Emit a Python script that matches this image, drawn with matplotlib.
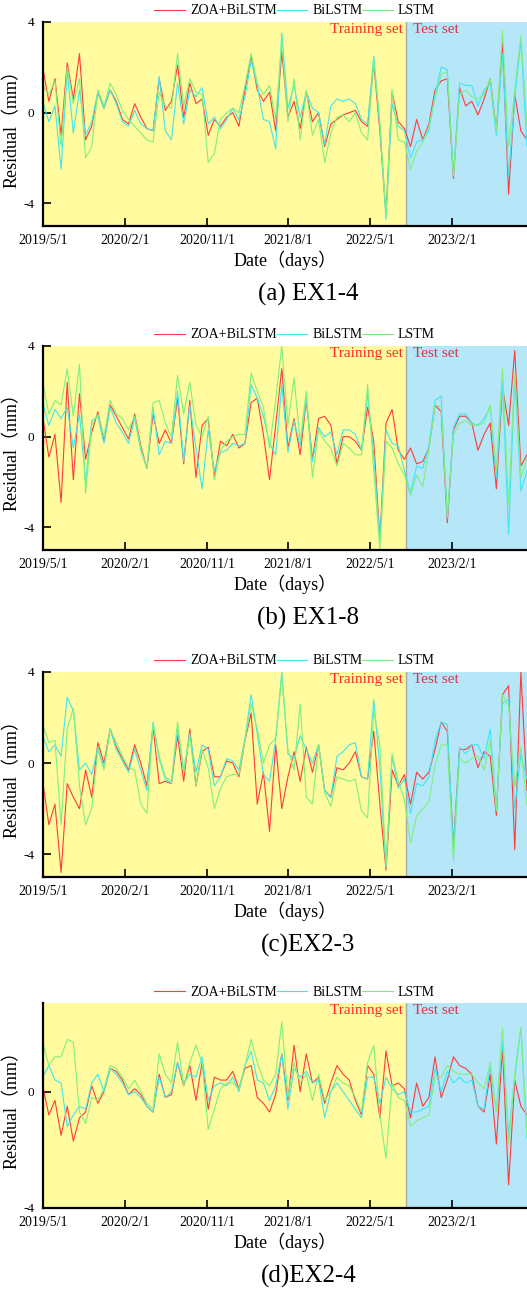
# residual curves for the four stations, ZOA+BiLSTM vs BiLSTM vs LSTM
import numpy as np
import pandas as pd
import matplotlib
matplotlib.use('Agg')
import matplotlib.pyplot as plt

plt.rcParams['font.family'] = ['Liberation Serif', 'Noto Sans CJK SC']

# time axis: one sample every ~20 days
dates = pd.date_range('2019-05-01', '2023-10-09', periods=80)
split_date = pd.Timestamp('2022-08-29')
tick_dates = ['2019-05-01', '2020-02-01', '2020-11-01', '2021-08-01', '2022-05-01', '2023-02-01']
tick_labels = ['2019/5/1', '2020/2/1', '2020/11/1', '2021/8/1', '2022/5/1', '2023/2/1']

series_names = ['ZOA+BiLSTM', 'BiLSTM', 'LSTM']
captions = ['(a) EX1-4', '(b) EX1-8', '(c)EX2-3', '(d)EX2-4']

# (a) EX1-4
a_zoa = [2.0, 0.5, 1.5, -1.0, 2.2, 0.6, 2.6, -1.2, -0.6, 0.9,
         0.2, 1.0, 0.5, -0.3, -0.5, 0.4, -0.2, -0.7, -0.8, 1.5,
         0.1, 0.5, 2.1, -0.2, 1.3, 0.4, 0.6, -1.0, -0.3, -0.6,
         -0.2, 0.0, -0.6, 1.0, 2.5, 1.0, 0.5, 0.9, -0.8, 2.7,
         -0.2, 0.5, -0.7, 0.9, -0.4, 0.0, -1.5, -0.5, -0.3, -0.1,
         0.0, 0.1, -0.4, -0.6, 2.2, -0.8, -4.5, 0.9, -0.4, -0.7,
         -1.5, -0.3, -1.2, -0.5, 1.0, 1.4, 1.5, -2.9, 1.1, 0.3,
         0.5, -0.1, 0.6, 1.5, -0.8, 3.1, -3.6, 0.8, -0.8, -1.2]
a_bilstm = [0.5, -0.4, 0.3, -2.5, 1.8, -0.9, 1.0, -1.0, -0.4, 0.9,
            0.2, 1.0, 0.4, -0.4, -0.6, 0.1, -0.5, -0.7, -0.8, 1.6,
            -0.8, -1.2, 1.3, -0.5, 1.0, 0.7, 1.1, -0.5, -0.2, -0.7,
            -0.3, 0.2, -0.3, 0.7, 2.3, 1.2, -0.3, -0.4, -1.6, 3.5,
            0.2, 1.2, -0.2, 0.9, 0.2, 0.0, -1.4, 0.3, 0.6, 0.5,
            0.6, 0.4, -0.3, -0.5, 2.5, -0.6, -4.7, 0.4, -0.6, -0.8,
            -2.0, -1.3, -1.2, -0.8, 0.8, 2.0, 1.9, -2.7, 1.3, 1.2,
            1.2, 0.3, 1.0, 1.3, -1.0, 2.6, -2.8, 0.6, 3.2, -1.5]
a_lstm = [1.2, 0.8, 1.4, -1.5, 2.0, 0.4, 1.5, -2.0, -1.5, 1.0,
          0.3, 1.3, 0.8, 0.1, -0.3, -0.6, -0.9, -1.2, -1.3, 0.9,
          0.3, 0.2, 2.6, 0.3, 1.5, 0.9, 0.8, -2.2, -1.8, -0.3,
          0.0, 0.2, 0.0, 1.2, 2.6, 1.3, 0.8, 1.2, -0.3, 3.2,
          -0.4, 1.5, -1.2, 1.0, -1.0, -0.3, -2.2, -0.9, -0.2, -0.1,
          -0.4, 0.0, -0.9, -1.2, 2.3, -0.4, -4.5, 1.0, -1.2, -1.3,
          -2.5, -1.7, -1.3, -0.6, 0.6, 1.7, 1.8, -2.8, 0.8, 1.0,
          0.7, 0.6, 0.8, 1.5, -0.8, 3.6, -1.5, 1.0, 3.4, -0.6]

# (b) EX1-8
b_zoa = [0.9, -0.9, 0.1, -2.9, 2.4, -1.9, 1.9, -1.0, 0.2, 1.1,
         -0.2, 1.4, 0.9, 0.4, -0.1, 1.0, -0.4, -1.4, 1.0, -0.3,
         0.3, -0.3, 1.7, -1.2, 1.6, -1.8, 0.5, 0.8, -1.8, -0.2,
         -0.4, 0.1, -0.5, -0.3, 1.5, 1.7, 0.1, -1.9, 0.5, 3.0,
         -0.5, 0.8, -0.8, 1.6, -1.0, 0.8, 0.9, 0.5, -1.2, 0.0,
         0.0, -0.2, -0.6, 1.3, -0.2, -4.5, 0.6, 1.2, -0.6, -1.0,
         -0.5, -1.2, -1.1, -0.5, 1.4, 1.1, -3.8, 0.3, 0.9, 0.9,
         0.6, -0.6, 0.1, 0.6, -2.3, 2.2, 0.5, 3.8, -1.3, -0.8]
b_bilstm = [1.5, 0.5, 1.2, 0.8, 1.3, -0.5, 1.0, -2.0, 0.7, 0.9,
            -0.3, 1.3, 0.6, 0.2, -0.3, 0.8, -0.6, -1.4, 1.3, -0.8,
            -0.2, -0.3, 2.0, -1.1, 1.4, -0.5, -2.3, 0.3, -1.5, -0.7,
            -0.6, -0.3, -0.4, -0.3, 2.3, 1.7, 0.9, -0.3, -0.8, 2.3,
            -0.7, 0.7, -0.4, 1.7, -1.1, 0.4, 0.0, 0.2, -0.8, 0.3,
            0.3, 0.1, -0.6, 1.9, -0.8, -4.6, 0.3, -0.3, -0.4, -1.5,
            -2.5, -1.3, -1.4, -0.4, 1.6, 1.8, -3.6, 0.4, 1.0, 1.0,
            0.6, 0.5, 0.8, 1.3, -1.8, 2.4, -4.3, 2.6, -2.4, -1.5]
b_lstm = [2.4, 1.0, 1.6, 1.4, 3.0, 0.9, 3.2, -2.5, 0.5, 1.0,
          0.0, 1.6, 1.0, 0.8, 0.3, 0.9, -0.5, -1.4, 1.5, 1.6,
          0.6, 0.0, 2.7, 1.0, 2.4, 0.5, 0.0, 0.9, -1.9, -0.6,
          -0.2, 0.0, 0.1, 0.1, 2.8, 2.0, 1.3, -0.5, 1.6, 4.0,
          0.5, 2.6, -0.2, 2.0, -1.8, 0.3, -0.2, -0.5, -1.3, -0.3,
          -0.5, -0.8, -0.8, 2.3, -1.5, -5.0, -0.2, -0.5, -1.2, -1.7,
          -2.6, -1.7, -2.2, -0.6, 1.4, 1.3, -3.5, 0.1, 0.6, 0.7,
          0.5, 0.5, 0.6, 1.4, -1.5, 3.0, -3.0, 2.8, -1.8, -1.0]

# (c) EX2-3
c_zoa = [-0.8, -2.7, -1.8, -4.8, -0.9, -1.5, -2.0, -0.3, -1.5, 0.9,
         0.0, 1.5, 0.7, 0.2, -0.3, 0.8, 0.0, -1.0, 1.6, -0.9,
         -0.8, -0.9, 1.2, -0.8, 1.5, -1.0, 0.5, 0.7, -0.6, -0.6,
         0.1, 0.0, -0.6, 1.0, 2.2, -1.8, -0.4, -3.0, 0.8, -2.0,
         -0.6, 0.5, -0.8, 0.7, -0.4, 0.8, -1.2, -1.5, -0.2, -0.3,
         0.0, 0.5, -0.6, -0.7, 1.4, -1.8, -4.7, -0.3, -1.0, -0.5,
         -1.8, -0.4, -0.7, -0.4, 0.6, 1.8, 1.4, -3.6, 0.6, 0.6,
         0.8, -0.2, 0.5, 0.3, -2.3, 3.0, 3.4, -3.8, 4.0, -1.2]
c_bilstm = [1.2, 0.5, 0.8, 0.3, 2.9, 2.3, -0.3, 0.0, -0.5, 0.7,
            -0.2, 1.5, 0.6, 0.1, -0.4, 0.6, -0.3, -1.2, 1.8, 0.2,
            -0.7, -0.9, 1.5, -0.3, 1.3, -0.4, 0.8, 0.6, -1.0, -0.6,
            0.2, 0.1, -0.3, 1.1, 3.0, 1.3, -0.5, -0.8, 1.0, 4.0,
            0.4, 0.2, 1.2, 0.6, 0.0, 0.8, -1.2, -1.5, 0.3, 0.5,
            0.8, 0.9, -0.6, -0.7, 2.8, -0.2, -4.6, 0.3, -1.1, -0.7,
            -2.2, -0.9, -1.0, -0.6, 1.0, 1.8, 1.7, -3.8, 0.7, 0.4,
            0.8, 0.8, 0.2, 1.5, -2.0, 2.6, 2.8, -2.0, 0.4, -0.7]
c_lstm = [1.7, 0.9, 1.0, -2.7, 1.5, 2.4, -1.0, -2.7, -2.0, 0.6,
          -0.3, 1.5, 0.9, 0.3, -0.2, -0.3, -1.8, -2.2, 1.7, 0.3,
          -0.6, -0.8, 1.8, -0.4, 1.2, -1.0, 0.6, -0.2, -2.0, -1.1,
          -0.6, -0.5, -0.5, 1.0, 2.6, 1.5, 0.0, 0.8, 1.1, 3.8,
          0.6, -0.3, 2.6, -1.5, -1.8, 0.8, -1.3, -1.9, -0.6, -0.7,
          -0.8, -0.7, -2.1, -2.4, 2.3, 0.8, -4.5, 0.4, -0.8, -1.6,
          -3.5, -2.3, -2.0, -1.7, -0.1, 0.8, 0.8, -4.3, 0.2, 0.0,
          0.2, 0.3, -0.3, 1.0, -2.1, 3.0, 2.5, -1.0, 0.7, -1.9]

# (d) EX2-4
d_zoa = [0.2, -0.8, -0.3, -1.5, -0.5, -1.7, -0.9, -0.7, 0.2, -0.4,
         0.0, 0.8, 0.7, 0.4, -0.1, 0.1, -0.1, -0.5, -0.7, 0.6,
         -0.2, -0.1, 1.0, 0.2, 0.9, -0.3, 1.0, -0.6, 0.5, 0.4,
         0.4, 0.7, 0.1, 0.8, 0.9, -0.2, -0.4, -0.7, -0.1, 1.3,
         -0.3, 1.6, 0.0, 1.3, 0.3, 0.5, -0.4, 0.3, 0.9, 0.6,
         0.4, -0.3, -0.8, 0.9, 0.6, -0.9, 1.4, 0.2, 0.3, 0.1,
         -0.9, 0.3, -0.5, -0.2, 1.2, -0.2, 0.4, 1.2, 0.9, 0.8,
         0.6, -0.5, -0.7, 0.6, -1.8, 1.5, -3.2, 0.4, -0.5, -0.8]
d_bilstm = [0.5, 0.9, 0.4, 0.3, -1.2, -0.8, -0.5, -0.6, 0.3, 0.6,
            0.0, 0.8, 0.6, 0.3, -0.1, 0.0, -0.2, -0.5, -0.7, 0.5,
            -0.2, 0.0, 1.0, 0.3, 0.6, 0.5, 1.2, -0.3, 0.2, 0.3,
            0.2, 0.5, 0.0, 0.9, 1.4, 0.4, 0.3, -0.3, 0.2, 1.3,
            -0.6, 0.8, 0.5, 0.7, 0.3, 0.4, -0.9, 0.0, 0.3, 0.0,
            -0.3, -0.6, -0.9, 0.5, 0.5, -0.4, 0.5, 0.1, -0.1, 0.0,
            -0.7, -0.7, -0.6, -0.5, 0.8, 0.0, 0.7, 0.3, 0.5, 0.3,
            0.4, -0.5, -0.6, 0.9, -0.7, 1.7, -1.5, 0.5, 2.2, -1.6]
d_lstm = [1.7, 0.9, 1.2, 1.2, 1.8, 1.7, -0.7, -1.1, -0.2, -0.3,
          0.1, 0.9, 0.8, 0.5, 0.1, 0.4, 0.0, -0.4, -0.6, 1.3,
          0.6, 0.3, 1.7, 0.2, 1.0, 1.6, 1.0, -1.3, -0.6, 0.1,
          0.3, 0.3, 0.1, 0.9, 1.8, 1.0, 0.4, 0.2, 0.6, 2.4,
          -0.2, 1.0, 0.3, 0.6, -0.3, 0.6, -0.3, 0.0, 0.5, 0.3,
          0.2, -0.2, -0.7, 1.0, 1.6, -0.8, -2.3, 0.3, -0.2, -0.3,
          -1.2, -1.0, -0.9, -0.8, 0.5, 0.5, 0.9, 0.7, 0.6, 0.6,
          0.6, 0.3, 0.1, 1.0, -0.7, 2.2, -1.8, 0.6, 2.2, -1.5]

panels = [(a_zoa, a_bilstm, a_lstm), (b_zoa, b_bilstm, b_lstm),
          (c_zoa, c_bilstm, c_lstm), (d_zoa, d_bilstm, d_lstm)]
ylims = [(-5, 4), (-5, 4), (-5, 4), (-4, 3.05)]

line_colors = ['#ff3c3c', '#3fe6f2', '#7ff07f']
yellow = '#fffb9e'
blue = '#b5e7f8'

fig = plt.figure(figsize=(5.27, 12.89), dpi=100)
H = 1289.0
# pixel (top, bottom) of each axes box
boxes = [(22, 226), (346, 550), (672, 877), (1003, 1208)]
left = 42.7 / 527

xmin = pd.Timestamp('2019-05-01')
xmax = pd.Timestamp('2023-10-09')

for k, (series, (top, bot)) in enumerate(zip(panels, boxes)):
    ax = fig.add_axes([left, 1 - bot / H, 1 - left, (bot - top) / H])
    ax.axvspan(xmin, split_date, color=yellow, lw=0, zorder=0)
    ax.axvspan(split_date, xmax, color=blue, lw=0, zorder=0)
    ax.axvline(split_date, color='#a8a8a8', lw=1.0, zorder=1)

    for vals, name, col in zip(series, series_names, line_colors):
        ax.plot(dates, vals, color=col, lw=0.8, label=name, zorder=2)

    ax.set_yticks([-4, 0, 4])
    ax.set_yticklabels(['-4', '0', '4'])
    ax.set_xticks(pd.to_datetime(tick_dates))
    ax.set_xticklabels(tick_labels)
    # limits after the ticks, otherwise set_yticks widens the view
    ax.set_xlim(xmin, xmax)
    ax.set_ylim(*ylims[k])

    ax.tick_params(axis='both', direction='in', length=6, width=1.2, labelsize=10, pad=6)
    ax.tick_params(axis='y', labelsize=9.5, pad=6)
    for s in ['top', 'right']:
        ax.spines[s].set_visible(False)
    for s in ['left', 'bottom']:
        ax.spines[s].set_linewidth(1.6)

    ax.set_xlabel('Date（days）', fontsize=13, labelpad=2)
    ax.set_ylabel('Residual（mm）', fontsize=13, labelpad=2)

    ax.annotate('Training set', xy=(split_date, 1), xycoords=('data', 'axes fraction'),
                xytext=(-2, -1), textcoords='offset points', ha='right', va='top',
                color='#ff2a2a', fontsize=11)
    ax.annotate('Test set', xy=(split_date, 1), xycoords=('data', 'axes fraction'),
                xytext=(5, -1), textcoords='offset points', ha='left', va='top',
                color='#e0304a', fontsize=11)

    ax.legend(loc='center', bbox_to_anchor=(0.52, 1 + 11 / (bot - top)), ncol=3,
              frameon=False, fontsize=10, handlelength=2.2, handletextpad=0.35,
              columnspacing=0.0, borderpad=0.1)

    fig.text(0.585, 1 - (bot + 68) / H, captions[k], ha='center', va='center', fontsize=18)

fig.savefig('out.png', dpi=100)
